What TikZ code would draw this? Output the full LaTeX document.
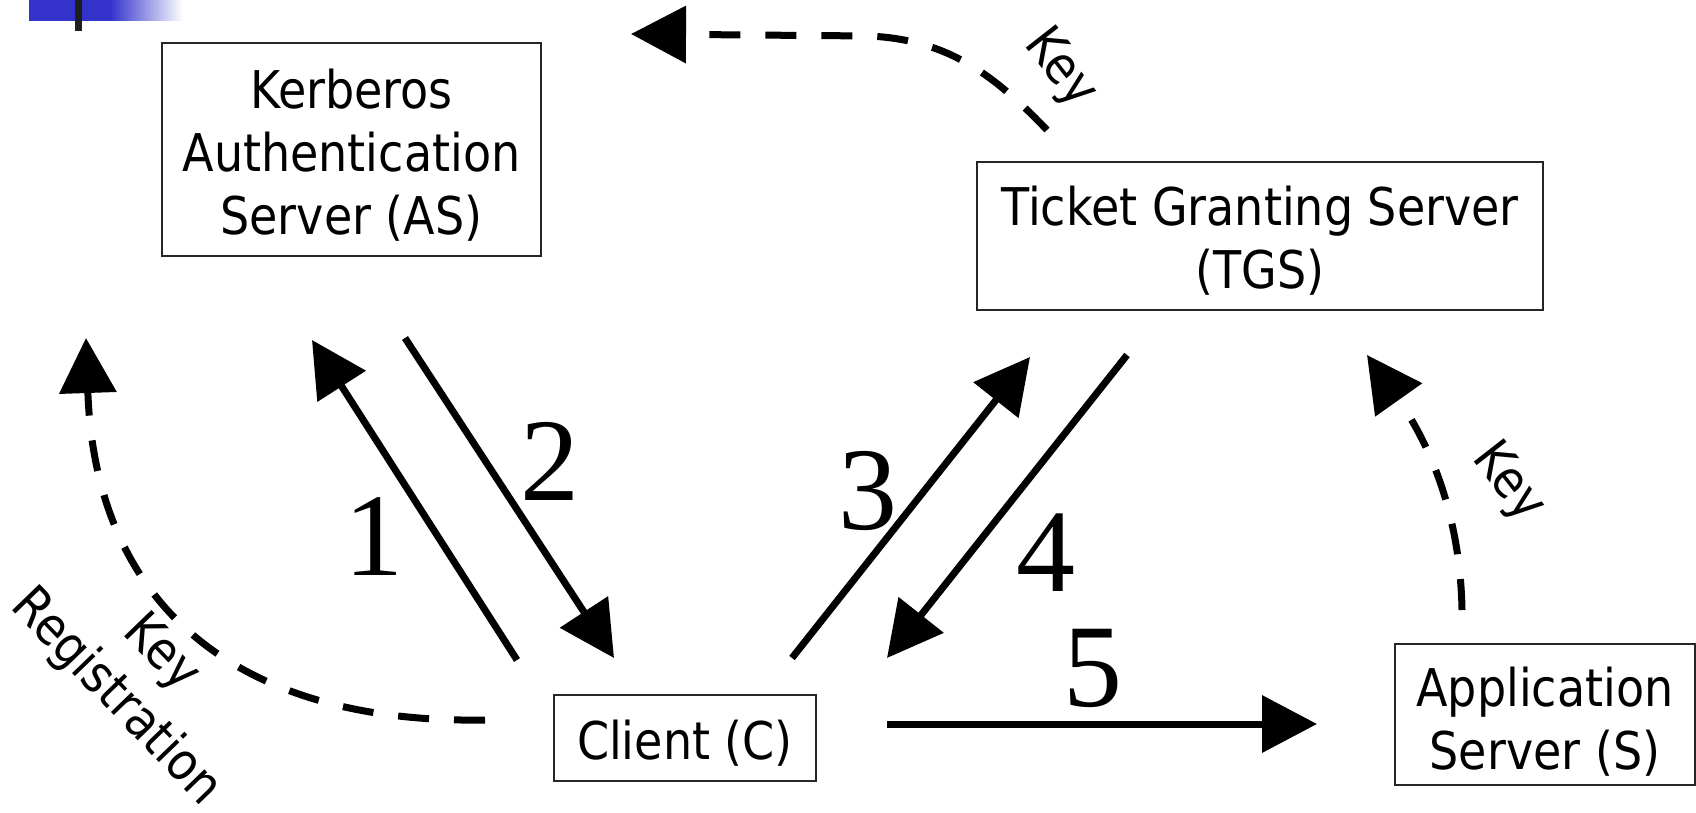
\documentclass[tikz,border=0pt]{standalone}
\usepackage{fontspec}
\setmainfont{Liberation Serif}
\newfontfamily\boxfont{DejaVu Sans}[FakeStretch=0.885]
\usetikzlibrary{arrows.meta}
\definecolor{barblue}{RGB}{51,51,204}
\begin{document}
\begin{tikzpicture}[x=1pt,y=-1pt,
  box/.style={draw=black!85, line width=2pt, inner sep=0pt},
  boxtext/.style={inner sep=0pt, align=center,
    font=\boxfont\fontsize{52}{63}\selectfont},
  num/.style={font=\fontsize{118}{120}\selectfont, inner sep=0pt},
  keylbl/.style={font=\boxfont\fontsize{52}{63}\selectfont, inner sep=0pt, align=center},
  flow/.style={line width=7pt, -{Triangle[length=55pt,width=56pt]}},
  keyflow/.style={flow, dash pattern=on 31pt off 25pt},
]
\useasboundingbox (0,0) rectangle (1696,813);

% corner decoration
\fill[barblue] (29,0) rectangle (110,21);
\shade[left color=barblue, right color=white] (110,0) rectangle (183,21);
\fill[black!88] (75,0) rectangle (82,31);

% boxes
\node[box, minimum width=379pt, minimum height=213pt] (as) at (351.5,149.5) {};
\node[box, minimum width=566pt, minimum height=148pt] (tgs) at (1260,236) {};
\node[box, minimum width=262pt, minimum height=86pt] (client) at (685,738) {};
\node[box, minimum width=300pt, minimum height=141pt] (app) at (1545,714.5) {};

\node[boxtext] (ast) at ([yshift=-6pt]as.center) {Kerberos\\Authentication\\Server (AS)};
\node[boxtext] (tgst) at ([yshift=-5pt]tgs.center) {Ticket Granting Server\\(TGS)};
\node[boxtext] (clientt) at ([yshift=-5pt]client.center) {Client (C)};
\node[boxtext] (appt) at ([yshift=-7pt]app.center) {Application\\Server (S)};

% arrow end points
\coordinate (a1s) at (517,660);  \coordinate (a1e) at (312,340);
\coordinate (a2s) at (405,338);  \coordinate (a2e) at (614,658);
\coordinate (a3s) at (792,658);  \coordinate (a3e) at (1030,357);
\coordinate (a4s) at (1127,355); \coordinate (a4e) at (887,658);
\coordinate (a5s) at (887,724);  \coordinate (a5e) at (1317,724);

\draw[flow] (a1s) -- (a1e);
\draw[flow] (a2s) -- (a2e);
\draw[flow] (a3s) -- (a3e);
\draw[flow] (a4s) -- (a4e);
\draw[flow] (a5s) -- (a5e);

\node[num] (n1) at (374,537) {1};
\node[num] (n2) at (550,461) {2};
\node[num] (n3) at (868,491) {3};
\node[num] (n4) at (1046,553) {4};
\node[num] (n5) at (1093,668) {5};

% key distribution (dashed)
\coordinate (r0) at (485,720);  \coordinate (r1) at (86,338);
\coordinate (t0) at (1047,130); \coordinate (t1) at (631,34);
\coordinate (s0) at (1462,610); \coordinate (s1) at (1367,355);

\draw[keyflow] (r0) .. controls (230,724) and (95,600) .. (r1);
\draw[keyflow] (t0) .. controls (985,65) and (940,40) .. (870,36) -- (t1);
\draw[keyflow] (s0) .. controls (1460,500) and (1420,430) .. (s1);

\node[keylbl, rotate=-52] (k1) at (1060,69) {Key};
\node[keylbl, rotate=-52] (k2) at (1508,483) {Key};
\node[keylbl, rotate=-46] (k3) at (138,676) {Key\\Registration};
\end{tikzpicture}
\end{document}
